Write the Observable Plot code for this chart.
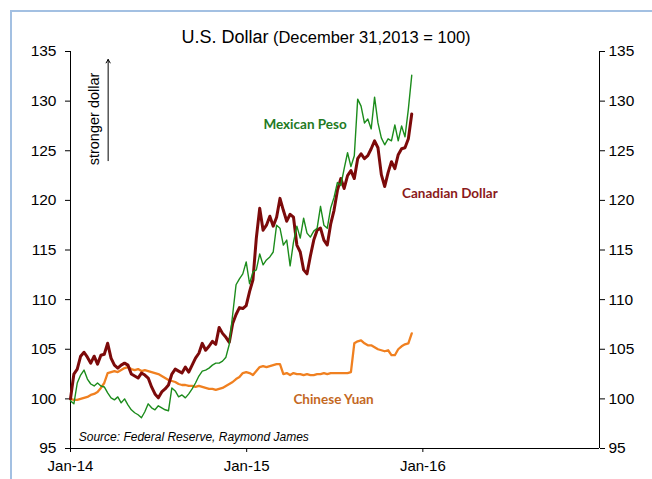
<!DOCTYPE html>
<html>
<head>
<meta charset="utf-8">
<script src="https://cdn.jsdelivr.net/npm/d3@7"></script>
<script src="https://cdn.jsdelivr.net/npm/@observablehq/plot@0.6"></script>
<style>
  html, body { margin: 0; padding: 0; background: #fff; }
  #wrap { position: relative; width: 652px; height: 479px; overflow: hidden; background: #fff; }
  #border { position: absolute; left: 10px; top: 10px; width: 800px; height: 800px;
            border-left: 2px solid #a3c0e2; border-top: 2px solid #a3c0e2; }
  #title { position: absolute; left: 0; top: 28px; width: 652px; text-align: center;
           font-family: "Liberation Sans", Arial, sans-serif; color: #000; white-space: nowrap; line-height: 18px; }
  #title .a { font-size: 18px; }
  #title .b { font-size: 16.5px; }
  #chart { position: absolute; left: 0; top: 0; }
</style>
</head>
<body>
<div id="wrap">
  <div id="border"></div>
  <div id="chart"></div>
  <div id="title"><span class="a">U.S. Dollar</span> <span class="b">(December 31,2013 = 100)</span></div>
</div>
<script>
// Weekly readings, starting 2014-01-01 (index = week number)
const startDate = "2014-01-01";
const mexicanPeso = [
  99.8, 99.5, 101.6, 102.4, 102.9, 102.0, 101.5, 101.3, 101.6, 101.3,
  101.2, 100.6, 100.1, 99.9, 100.2, 99.6, 100.0, 99.4, 98.9, 98.6,
  98.4, 98.1, 98.7, 99.5, 99.1, 98.9, 99.3, 99.1, 98.9, 98.8,
  101.1, 100.8, 100.2, 100.4, 100.1, 100.5, 101.0, 101.6, 102.3, 102.8,
  102.9, 103.1, 103.4, 103.6, 103.6, 103.8, 104.2, 105.5, 108.5, 111.5,
  112.1, 112.6, 113.8, 111.6, 112.8, 113.0, 114.6, 113.5, 114.0, 114.3,
  114.8, 117.5, 117.2, 115.5, 116.0, 113.4, 115.8, 117.4, 116.2, 118.2,
  116.7, 116.3, 116.9, 117.2, 119.4, 117.5, 117.2, 119.2, 120.3, 121.8,
  121.5, 123.2, 124.8, 123.4, 124.5, 130.2, 129.5, 127.8, 128.2, 127.2,
  130.4, 127.8, 126.3, 125.6, 126.2, 126.0, 127.6, 126.0, 127.5, 126.4,
  129.2, 132.6
];
const canadianDollar = [
  100.0, 102.5, 103.0, 104.3, 104.7, 104.2, 103.6, 104.3, 103.5, 104.4,
  104.5, 105.6, 104.1, 103.4, 103.1, 103.4, 103.6, 103.4, 102.5, 102.3,
  102.1, 102.6, 102.4, 102.1, 101.2, 100.5, 100.1, 100.7, 101.0, 101.4,
  102.5, 103.0, 102.8, 102.6, 103.2, 102.7, 103.4, 104.1, 104.6, 105.6,
  104.9, 105.3, 105.8, 105.5, 107.2, 106.6, 106.2, 105.7, 107.6, 108.5,
  109.2, 109.1, 109.4, 110.8, 112.0, 116.2, 119.2, 117.0, 117.5, 118.4,
  117.4, 118.3, 120.2, 119.0, 117.9, 118.6, 118.3, 115.5, 114.8, 113.0,
  112.6, 114.4, 116.0, 117.0, 117.2, 116.0, 115.5, 117.6, 119.0, 121.0,
  122.2, 121.2, 122.5, 123.0, 122.2, 124.2, 124.7, 124.2, 124.5, 125.2,
  126.0, 125.3, 122.6, 121.4, 122.8, 123.9, 123.2, 124.6, 125.2, 125.3,
  126.2, 128.7
];
const chineseYuan = [
  100.0, 99.9, 99.9, 100.0, 100.1, 100.2, 100.4, 100.5, 100.7, 101.1,
  101.6, 102.6, 102.7, 102.8, 102.7, 102.9, 103.1, 103.2, 103.0, 102.9,
  103.0, 102.8, 102.9, 102.8, 102.7, 102.6, 102.5, 102.3, 102.1, 101.9,
  101.8, 101.7, 101.5, 101.4, 101.4, 101.3, 101.3, 101.2, 101.3, 101.2,
  101.1, 101.0, 101.0, 100.9, 101.0, 101.1, 101.3, 101.5, 101.7, 102.0,
  102.2, 102.6, 102.7, 102.6, 102.4, 102.8, 103.2, 103.3, 103.2, 103.3,
  103.4, 103.5, 103.5, 102.5, 102.6, 102.4, 102.6, 102.5, 102.5, 102.4,
  102.5, 102.4, 102.4, 102.5, 102.5, 102.6, 102.5, 102.6, 102.6, 102.6,
  102.6, 102.6, 102.6, 102.7, 105.6, 105.8, 105.9, 105.6, 105.4, 105.4,
  105.2, 105.0, 104.9, 104.8, 104.9, 104.4, 104.4, 105.0, 105.3, 105.5,
  105.6, 106.6
];
const yTicks = [95, 100, 105, 110, 115, 120, 125, 130, 135];
const xTickDates = ["2014-01-01", "2015-01-01", "2016-01-01"];
const xTickLabels = ["Jan-14", "Jan-15", "Jan-16"];
const xDomainDates = ["2014-01-01", "2017-01-01"];

// label anchors (date, value) at the label centre
const seriesLabels = [
  {text: "Mexican Peso", date: "2015-05-02", value: 127.6, color: "#237a23"},
  {text: "Canadian Dollar", date: "2016-02-26", value: 120.7, color: "#8a1a1a"},
  {text: "Chinese Yuan", date: "2015-06-30", value: 99.9, color: "#c4691f"}
];
const noteText = "stronger dollar";
const sourceText = "Source: Federal Reserve, Raymond James";

const parse = d3.utcParse("%Y-%m-%d");
const t0 = parse(startDate);
const toRows = (arr) => arr.map((v, i) => ({date: d3.utcDay.offset(t0, 7 * i), v}));
const peso = toRows(mexicanPeso), cad = toRows(canadianDollar), cny = toRows(chineseYuan);
const xDomain = xDomainDates.map(parse);
const xTicks = xTickDates.map(parse);

const font = "'Liberation Sans', Arial, sans-serif";
const labelFont = "Lato, 'Liberation Sans', sans-serif";

const chart = Plot.plot({
  width: 652, height: 479,
  marginLeft: 70, marginRight: 53, marginTop: 51, marginBottom: 31,
  style: {fontFamily: font, fontSize: "15px", color: "#000", background: "transparent", overflow: "visible"},
  x: {type: "utc", domain: xDomain},
  y: {domain: [95, 135]},
  marks: [
    Plot.axisY({anchor: "left", ticks: yTicks, tickSize: 5, tickPadding: 9, label: null, fontSize: 15.5, stroke: "#000"}),
    Plot.axisY({anchor: "right", ticks: yTicks, tickSize: 5, tickPadding: 4, label: null, fontSize: 15.5, stroke: "#000"}),
    Plot.axisX({ticks: xTicks, tickFormat: (d) => xTickLabels[xTicks.findIndex(t => +t === +d)], tickSize: 4, tickPadding: 8, label: null, fontSize: 15, stroke: "#000"}),
    Plot.ruleX([xDomain[0], xDomain[1]], {stroke: "#000", strokeWidth: 1}),
    Plot.ruleY([95], {stroke: "#000", strokeWidth: 1}),
    Plot.line(cny, {x: "date", y: "v", stroke: "#f08020", strokeWidth: 2.3}),
    Plot.line(cad, {x: "date", y: "v", stroke: "#7c0a0a", strokeWidth: 3}),
    Plot.line(peso, {x: "date", y: "v", stroke: "#1c8c1c", strokeWidth: 1.4}),
    Plot.text(seriesLabels, {x: d => parse(d.date), y: "value", text: "text", fill: "color",
      fontWeight: "bold", fontSize: 13.5, fontFamily: labelFont}),
    Plot.text([noteText], {x: parse("2014-02-20"), y: 128.2, text: d => d, rotate: -90, fontSize: 14.5, fill: "#000"}),
    Plot.arrow([{x: parse("2014-03-20"), y1: 124, y2: 134.2}], {x: "x", y1: "y1", y2: "y2", stroke: "#000", strokeWidth: 1, headLength: 6}),
    Plot.text([sourceText], {x: parse("2014-01-18"), y: 96.1, text: d => d, textAnchor: "start", fontStyle: "italic", fontSize: 12, fill: "#000"})
  ]
});
document.getElementById("chart").appendChild(chart);
</script>
</body>
</html>
